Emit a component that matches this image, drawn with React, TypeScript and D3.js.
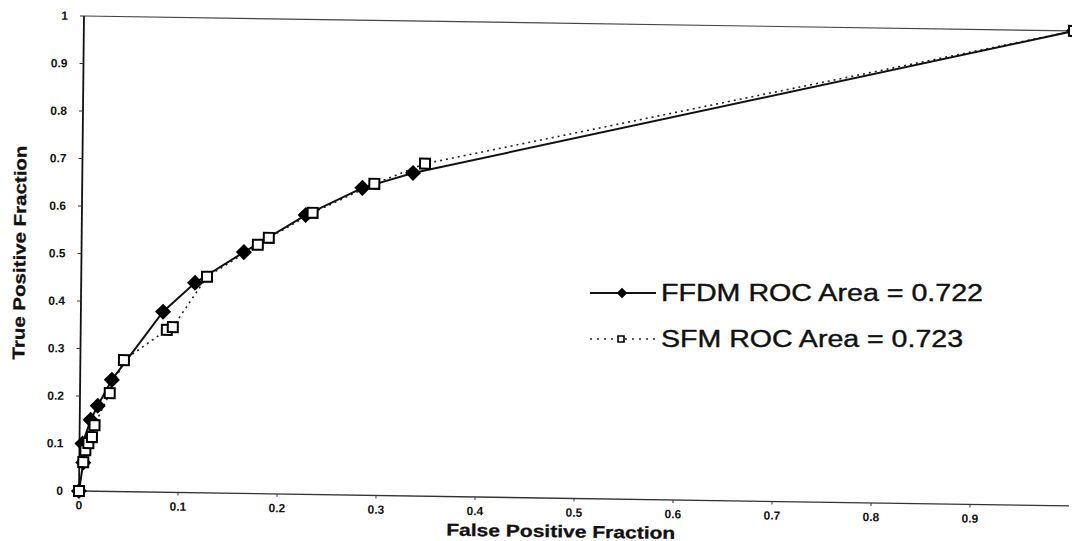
import React from "react";
import * as d3 from "d3";

const ffdmFPF = [0, 0.004, 0.003, 0.011, 0.018, 0.032, 0.083, 0.115, 0.164, 0.226, 0.283, 0.334, 1];
const ffdmTPF = [0, 0.06, 0.1, 0.15, 0.18, 0.235, 0.38, 0.442, 0.508, 0.588, 0.647, 0.68, 1];

const sfmFPF = [0, 0.004, 0.006, 0.009, 0.0125, 0.015, 0.03, 0.044, 0.087, 0.093, 0.127, 0.178, 0.189, 0.233, 0.295, 0.346, 1];
const sfmTPF = [0, 0.061, 0.086, 0.101, 0.114, 0.139, 0.207, 0.277, 0.342, 0.348, 0.455, 0.524, 0.539, 0.593, 0.656, 0.7, 1];

const xTicks = [0, 0.1, 0.2, 0.3, 0.4, 0.5, 0.6, 0.7, 0.8, 0.9];
const yTicks = [0, 0.1, 0.2, 0.3, 0.4, 0.5, 0.6, 0.7, 0.8, 0.9, 1];
const xTitle = "False Positive Fraction";
const yTitle = "True Positive Fraction";
const legendLabels = ["FFDM ROC Area = 0.722", "SFM ROC Area = 0.723"];

const FONT = "'Liberation Sans', Arial, Helvetica, sans-serif";

export default function App() {
  const W = 1072, H = 541;
  const x = d3.scaleLinear().domain([0, 1]).range([0, 990]);
  const y = d3.scaleLinear().domain([0, 1]).range([0, -475]);

  const ffdm = ffdmFPF.map((v, i) => [v, ffdmTPF[i]] as [number, number]);
  const sfm = sfmFPF.map((v, i) => [v, sfmTPF[i]] as [number, number]);

  const line = d3.line<[number, number]>().x(d => x(d[0])).y(d => y(d[1]));
  const diamond = d3.symbol().type(d3.symbolDiamond2).size(165)();
  const square = d3.symbol().type(d3.symbolSquare).size(100)();
  const legDiamond = d3.symbol().type(d3.symbolDiamond2).size(70)();
  const legSquare = d3.symbol().type(d3.symbolSquare).size(36)();

  return (
    <svg width={W} height={H} style={{ position: "absolute", left: 0, top: 0, background: "#fff" }}>
      <rect x={0} y={0} width={W} height={H} fill="#fff" />
      <g transform="matrix(1,0.0151,-0.0105,1,79,491)">
        {/* frame */}
        <line x1={x(0)} y1={y(1)} x2={x(1)} y2={y(1)} stroke="#444" strokeWidth={1.2} />
        <line x1={x(0)} y1={y(0)} x2={x(1)} y2={y(0)} stroke="#333" strokeWidth={1.3} />
        <line x1={x(0)} y1={y(0)} x2={x(0)} y2={y(1)} stroke="#111" strokeWidth={1.8} />
        {yTicks.map(t => (
          <g key={"y" + t}>
            <line x1={-4} x2={0} y1={y(t)} y2={y(t)} stroke="#333" strokeWidth={1} />
            <text x={-16} y={y(t)} dy="0.35em" textAnchor="end" fontFamily={FONT} fontWeight="bold" fontSize={12} fill="#111">
              {t}
            </text>
          </g>
        ))}
        {xTicks.map(t => (
          <g key={"x" + t}>
            <line x1={x(t)} x2={x(t)} y1={0} y2={3} stroke="#333" strokeWidth={1} />
            <text x={x(t)} y={14} dy="0.35em" textAnchor="middle" fontFamily={FONT} fontWeight="bold" fontSize={12} fill="#111">
              {t}
            </text>
          </g>
        ))}
        <text x={x(0.487)} y={39} textAnchor="middle" fontFamily={FONT} fontWeight="bold" fontSize={17} fill="#111"
          stroke="#111" strokeWidth={0.3} textLength={229} lengthAdjust="spacingAndGlyphs">{xTitle}</text>
        <text transform={`translate(-56,${y(0.5)}) rotate(-90)`} textAnchor="middle" fontFamily={FONT} fontWeight="bold" fontSize={17} fill="#111"
          stroke="#111" strokeWidth={0.3} textLength={214} lengthAdjust="spacingAndGlyphs">{yTitle}</text>

        <path d={line(sfm) || ""} fill="none" stroke="#222" strokeWidth={1.6} strokeDasharray="2,4" />
        <path d={line(ffdm) || ""} fill="none" stroke="#111" strokeWidth={2} />
        {ffdm.map((d, i) => (
          <path key={"d" + i} d={diamond || ""} transform={`translate(${x(d[0])},${y(d[1])})`} fill="#000" />
        ))}
        {sfm.map((d, i) => (
          <path key={"s" + i} d={square || ""} transform={`translate(${x(d[0])},${y(d[1])})`} fill="#fff" stroke="#000" strokeWidth={2} />
        ))}
      </g>

      {/* legend */}
      <g>
        <line x1={590} x2={656} y1={293} y2={293} stroke="#111" strokeWidth={2} />
        <path d={legDiamond || ""} transform="translate(622,293)" fill="#000" />
        <text x={661} y={301} fontFamily={FONT} fontSize={23} fill="#111" stroke="#111" strokeWidth={0.4}
          textLength={322} lengthAdjust="spacingAndGlyphs">{legendLabels[0]}</text>
        <line x1={590} x2={656} y1={339} y2={339} stroke="#222" strokeWidth={1.6} strokeDasharray="2,5" />
        <path d={legSquare || ""} transform="translate(621,339)" fill="#fff" stroke="#000" strokeWidth={1.6} />
        <text x={661} y={347} fontFamily={FONT} fontSize={23} fill="#111" stroke="#111" strokeWidth={0.4}
          textLength={302} lengthAdjust="spacingAndGlyphs">{legendLabels[1]}</text>
      </g>
    </svg>
  );
}
